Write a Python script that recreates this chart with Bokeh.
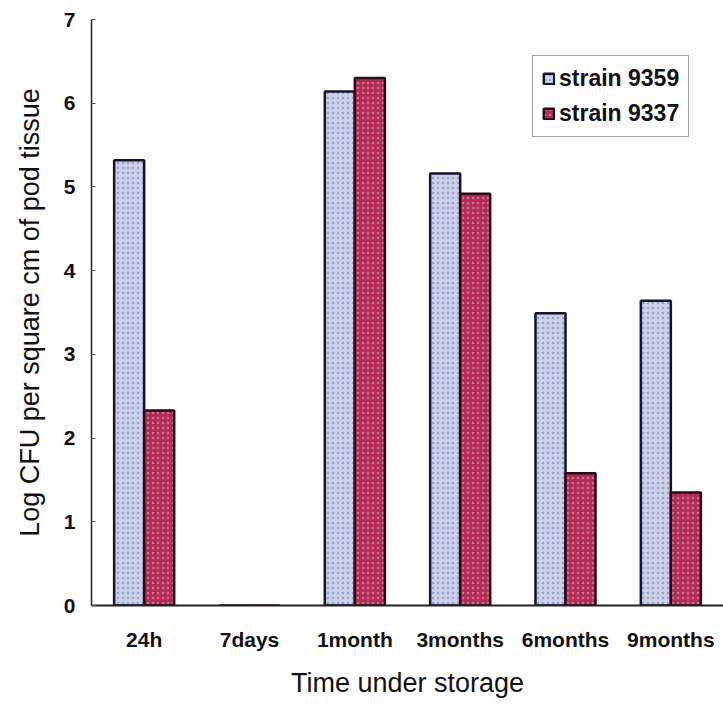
from bokeh.plotting import figure
from bokeh.models import ColumnDataSource, FactorRange, Legend, LegendItem, FixedTicker
from bokeh.transform import dodge
from bokeh.embed import file_html
from bokeh.resources import INLINE

categories = ["24h", "7days", "1month", "3months", "6months", "9months"]
strain_9359 = [5.32, 0.0, 6.14, 5.16, 3.49, 3.64]
strain_9337 = [2.33, 0.0, 6.30, 4.92, 1.58, 1.35]
y_ticks = [0, 1, 2, 3, 4, 5, 6, 7]

src = ColumnDataSource(dict(t=categories, a=strain_9359, b=strain_9337))

FONT = "Liberation Sans"

p = figure(width=723, height=705, x_range=FactorRange(*categories), y_range=(0, 7),
           output_backend="svg", toolbar_location=None,
           min_border_left=91, min_border_right=0, min_border_top=19, min_border_bottom=100)
p.outline_line_color = None
p.xgrid.grid_line_color = None
p.ygrid.grid_line_color = None
p.x_range.range_padding = 0.0

r1 = p.vbar(x=dodge("t", -0.1425, range=p.x_range), top="a", width=0.285, source=src,
            fill_color="#ccd0ea", line_color="#14142a", line_width=2.5,
            hatch_pattern="dot", hatch_color="#6f78b0", hatch_alpha=0.55, hatch_scale=5, hatch_weight=1.2)
r2 = p.vbar(x=dodge("t", 0.1425, range=p.x_range), top="b", width=0.285, source=src,
            fill_color="#b32c55", line_color="#2a0a14", line_width=2.5,
            hatch_pattern="dot", hatch_color="#f2c8d4", hatch_alpha=0.45, hatch_scale=5, hatch_weight=1.2)

# axes
p.yaxis.ticker = FixedTicker(ticks=y_ticks)
p.yaxis.minor_tick_line_color = None
p.yaxis.major_tick_in = 4
p.yaxis.major_tick_out = 0
p.yaxis.major_tick_line_color = "#555555"
p.yaxis.axis_line_color = "#222222"
p.yaxis.axis_line_width = 1.5
p.yaxis.major_label_text_font = FONT
p.yaxis.major_label_text_font_style = "bold"
p.yaxis.major_label_text_font_size = "21px"
p.yaxis.major_label_text_color = "#111111"
p.yaxis.major_label_standoff = 16
p.yaxis.axis_label = "Log CFU per square cm of pod tissue"
p.yaxis.axis_label_text_font = FONT
p.yaxis.axis_label_text_font_style = "normal"
p.yaxis.axis_label_text_font_size = "27px"
p.yaxis.axis_label_text_color = "#111111"
p.yaxis.axis_label_standoff = 16

p.xaxis.major_tick_line_color = None
p.xaxis.major_tick_in = 0
p.xaxis.major_tick_out = 0
p.xaxis.axis_line_color = "#222222"
p.xaxis.axis_line_width = 2
p.xaxis.major_label_text_font = FONT
p.xaxis.major_label_text_font_style = "bold"
p.xaxis.major_label_text_font_size = "21px"
p.xaxis.major_label_text_color = "#111111"
p.xaxis.major_label_standoff = 22
p.xaxis.axis_label = "Time under storage"
p.xaxis.axis_label_text_font = FONT
p.xaxis.axis_label_text_font_style = "normal"
p.xaxis.axis_label_text_font_size = "27px"
p.xaxis.axis_label_text_color = "#111111"
p.xaxis.axis_label_standoff = 14

legend = Legend(items=[LegendItem(label="strain 9359", renderers=[r1]),
                       LegendItem(label="strain 9337", renderers=[r2])],
                location=(441, 468))
legend.label_text_font = FONT
legend.label_text_font_style = "bold"
legend.label_text_font_size = "23px"
legend.label_text_color = "#111111"
legend.glyph_width = 13
legend.glyph_height = 13
legend.label_height = 24
legend.label_standoff = 4
legend.spacing = 8
legend.padding = 9
legend.margin = 0
legend.border_line_color = "#444444"
legend.border_line_width = 1
legend.background_fill_alpha = 1.0
p.add_layout(legend)

open("out.html", "w").write(file_html(p, INLINE))
